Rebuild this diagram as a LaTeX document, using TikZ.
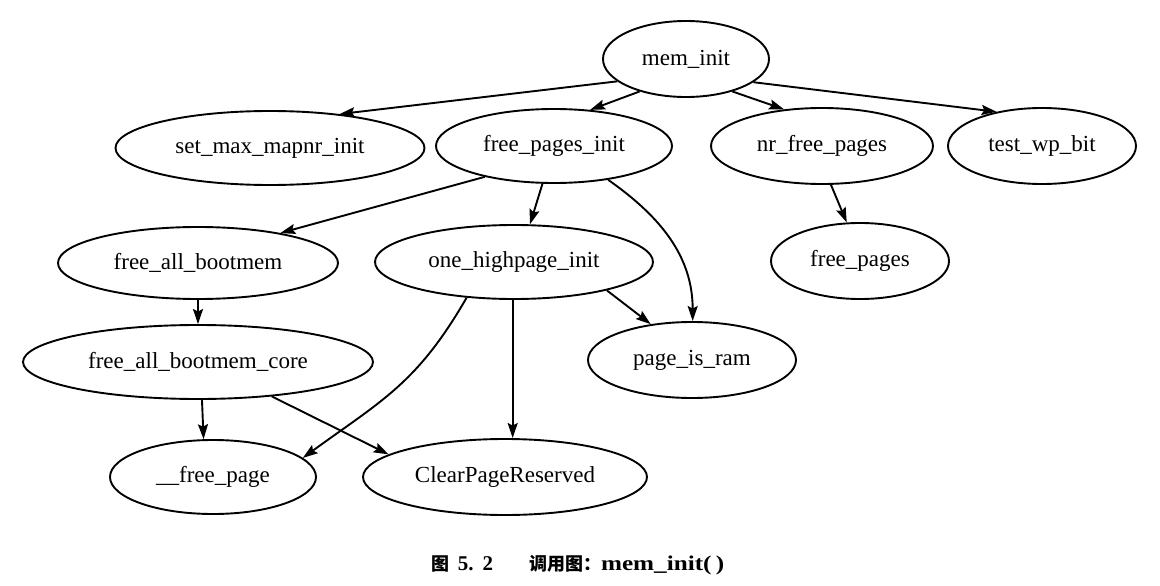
\documentclass[tikz,border=0pt]{standalone}
\usepackage{fontspec}
\setmainfont{Liberation Serif}
\newfontfamily\cjk{Noto Sans CJK SC}
\usetikzlibrary{shapes.geometric, arrows.meta}

\tikzset{fn/.style={ellipse, draw, line width=1.9pt, inner sep=0pt, font=\fontsize{23}{25}\selectfont}}

\begin{document}
\begin{tikzpicture}[>={Stealth[length=15pt, width=10pt, inset=2.5pt]}, x=1pt, y=1pt, line width=1.9pt]
        \useasboundingbox (0,0) rectangle (1160,-586);
        % functions
        \node[fn, minimum width=166pt, minimum height=76pt] (mem) at (686,-59) {mem\_init};
        \node[fn, minimum width=309pt, minimum height=74pt] (setmax) at (270,-148) {set\_max\_mapnr\_init};
        \node[fn, minimum width=236pt, minimum height=74pt] (fpinit) at (554,-146) {free\_pages\_init};
        \node[fn, minimum width=222pt, minimum height=76pt] (nrfree) at (822,-146) {nr\_free\_pages};
        \node[fn, minimum width=188pt, minimum height=76pt] (testwp) at (1042,-146) {test\_wp\_bit};
        \node[fn, minimum width=280pt, minimum height=72pt] (fallboot) at (198,-263) {free\_all\_bootmem};
        \node[fn, minimum width=278pt, minimum height=74pt] (onehigh) at (514,-262) {one\_highpage\_init};
        \node[fn, minimum width=178pt, minimum height=76pt] (freepages) at (860,-261) {free\_pages};
        \node[fn, minimum width=350pt, minimum height=74pt] (fallcore) at (198,-362) {free\_all\_bootmem\_core};
        \node[fn, minimum width=208pt, minimum height=76pt] (pageram) at (692,-360) {page\_is\_ram};
        \node[fn, minimum width=206pt, minimum height=74pt] (freepage) at (213,-477) {\_\_free\_page};
        \node[fn, minimum width=284pt, minimum height=76pt] (clearres) at (505,-477) {ClearPageReserved};
        % calls
        \draw[->] (mem.198) -- (setmax.26);
        \draw[->] (mem.215) -- (fpinit.45);
        \draw[->] (mem.325) -- (nrfree.136);
        \draw[->] (mem.341) -- (testwp.143);
        \draw[->] (fpinit.204) -- (fallboot.20);
        \draw[->] (fpinit.253) -- (onehigh.67);
        \draw[->] (fpinit.328) to[out=-35, in=90] (pageram.89);
        \draw[->] (nrfree.283) -- (freepages.109);
        \draw[->] (fallboot.south) -- (fallcore.north);
        \draw[->] (onehigh.343) -- (pageram.139);
        \draw[->] (onehigh.268) -- (onehigh.268 |- clearres.north);
        \draw[->] (onehigh.217) to[out=240, in=36, looseness=1.1] (freepage.12);
        \draw[->] (fallcore.276) -- (freepage.104);
        \draw[->] (fallcore.335) -- (clearres.169);
        % caption
        \node[font=\bfseries\fontsize{21}{23}\selectfont] (cap) at (578,-565)
            {{\cjk\fontsize{18}{20}\selectfont 图}\hspace{8pt}5.\hspace{9pt}2\hspace{36pt}{\cjk\fontsize{18}{20}\selectfont 调用图：}\scalebox{1.2}[1]{mem\_init(\,)}};
\end{tikzpicture}
\end{document}
